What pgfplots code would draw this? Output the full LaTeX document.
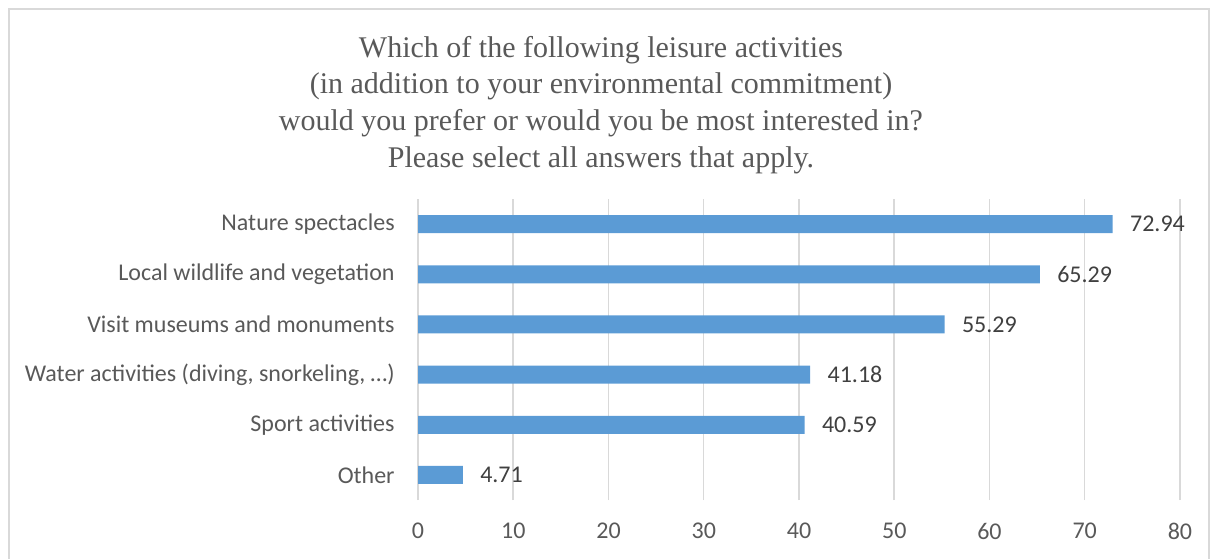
\documentclass[border=0pt]{standalone}
\usepackage{pgfplots}
\pgfplotsset{compat=1.18}
\usepackage{fontspec}
\setmainfont{Carlito}
\newfontfamily\titlefont{Liberation Serif}

\definecolor{barblue}{HTML}{5B9BD5}
\definecolor{txt}{HTML}{595959}
\definecolor{lbl}{HTML}{404040}
\definecolor{gridc}{HTML}{D9D9D9}

\begin{document}
\begin{tikzpicture}[x=0.5pt, y=0.5pt]
\useasboundingbox (0,0) rectangle (1211,558);
\draw[gridc, line width=1pt] (9,-20) -- (9,549) -- (1209,549) -- (1209,-20);

\node[align=center, text=txt, font=\titlefont\fontsize{15}{18.4}\selectfont] at (601,453)
  {Which of the following leisure activities\\
   (in addition to your environmental commitment)\\
   would you prefer or would you be most interested in?\\
   Please select all answers that apply.};

\begin{axis}[
    at={(209pt,29pt)}, anchor=south west,
    scale only axis,
    width=381pt, height=150.5pt,
    xmin=0, xmax=80,
    ymin=-0.5, ymax=5.5,
    xtick={0,10,...,80},
    ytick={0,1,2,3,4,5},
    yticklabels={Other, Sport activities, {Water activities (diving, snorkeling, …)},
                 Visit museums and monuments, Local wildlife and vegetation, Nature spectacles},
    axis lines*=left,
    x axis line style={draw=none},
    y axis line style={gridc, line width=0.75pt},
    major tick length=0pt,
    xmajorgrids,
    grid style={gridc, line width=0.75pt},
    /pgf/number format/assume math mode=true,
    ticklabel style={font=\fontsize{12}{14}\selectfont, text=txt, inner sep=0pt},
    xticklabel style={anchor=north, yshift=-11.5pt},
    yticklabel style={anchor=east, xshift=-11.5pt},
]
\addplot[xbar, bar width=9pt, fill=barblue, draw=none,
    point meta=explicit symbolic,
    nodes near coords,
    nodes near coords style={anchor=west, inner sep=0pt, xshift=8.5pt,
        text=lbl, font=\fontsize{12}{14}\selectfont}]
    coordinates {
        (4.71,0)  [4.71]
        (40.59,1) [40.59]
        (41.18,2) [41.18]
        (55.29,3) [55.29]
        (65.29,4) [65.29]
        (72.94,5) [72.94]
    };
\end{axis}
\end{tikzpicture}
\end{document}
